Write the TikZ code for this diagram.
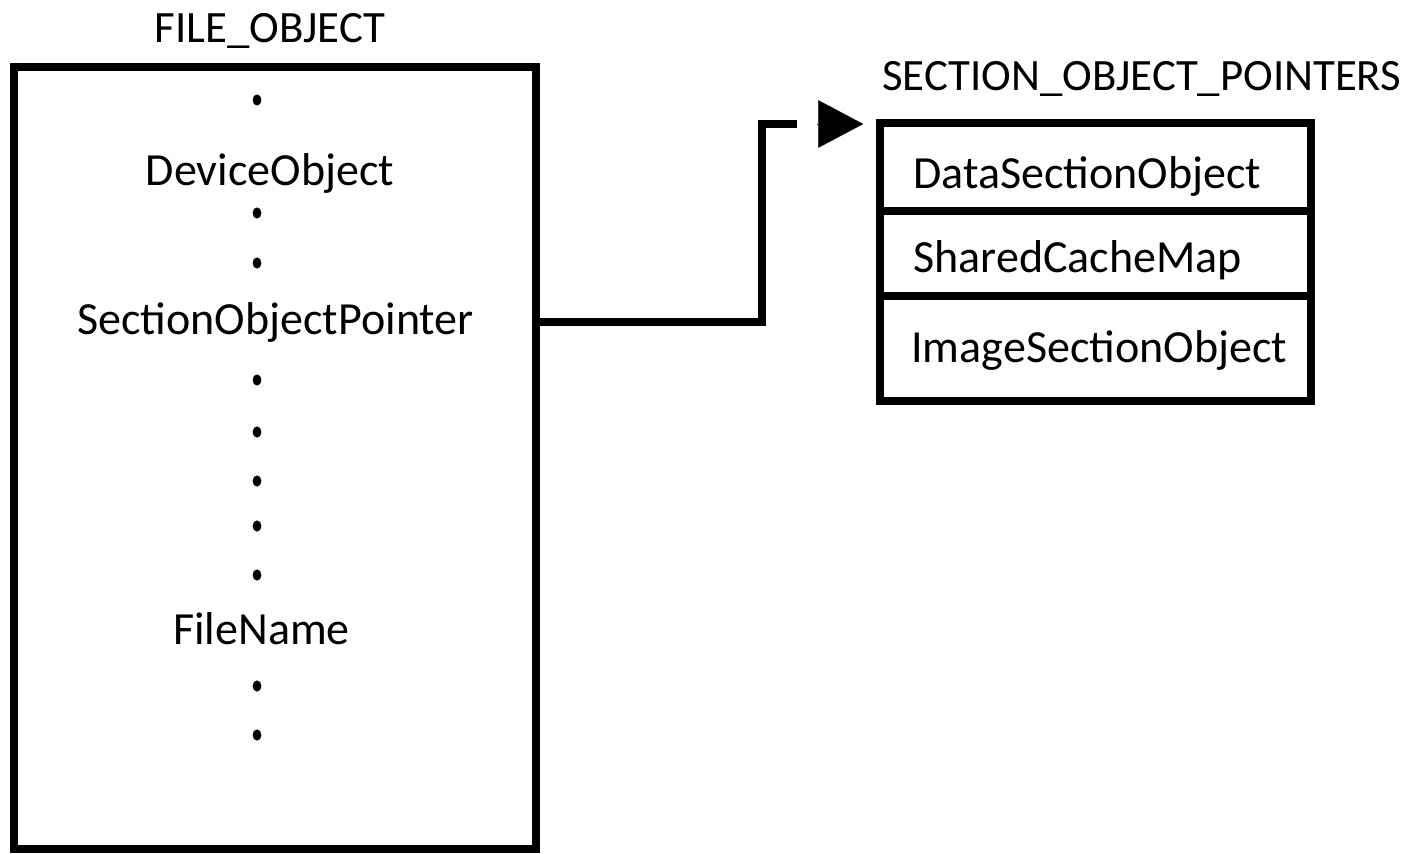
\documentclass[tikz,border=0pt]{standalone}
\usepackage{fontspec}
\setmainfont{Carlito}
\usetikzlibrary{positioning,arrows.meta}

\tikzset{
  structbox/.style={draw, line width=5pt, inner sep=0pt, outer sep=0pt},
  fieldcell/.style={structbox, minimum width=8.62cm},
  fieldname/.style={inner sep=0pt, font=\fontsize{26.2}{30}\selectfont},
  title/.style={inner sep=0pt, font=\fontsize{25.5}{30}\selectfont},
  ptrlink/.style={line width=5pt},
  ptrtip/.style={line width=0.1pt, -{Triangle[length=25.5pt,width=27pt]}}
}

\begin{document}
\begin{tikzpicture}[x=0.02cm, y=-0.02cm]
    \useasboundingbox (0,0) rectangle (1406,853);
    % FILE_OBJECT
    \node[structbox, minimum width=10.44cm, minimum height=15.64cm] (fileobj) at (275,458) {};
    \node[title] (fotitle) at (270,31) {FILE\_OBJECT};
    \node[fieldname] (devobj) at (270,173) {DeviceObject};
    \node[fieldname] (spo) at (275.5,322) {SectionObjectPointer};
    \node[fieldname] (fname) at (261.5,629) {FileName};
    \foreach \y in {100,213,263,380,432,481,526,575,686,735}{
        \fill (257,\y) ellipse [x radius=2.5pt, y radius=3.2pt];}
    % SECTION_OBJECT_POINTERS
    \node[fieldcell, minimum height=1.76cm] (dso) at (1095.5,167) {};
    \node[fieldcell, minimum height=1.7cm, below=0pt of dso] (scm) {};
    \node[fieldcell, minimum height=2.1cm, below=0pt of scm] (iso) {};
    \node[title, anchor=west] (soptitle) at (882,79) {SECTION\_OBJECT\_POINTERS};
    \node[fieldname, anchor=west] (dsotext) at (913,176) {DataSectionObject};
    \node[fieldname, anchor=west] (scmtext) at (913,260.5) {SharedCacheMap};
    \node[fieldname, anchor=west] (isotext) at (911,350.5) {ImageSectionObject};
    % pointer
    \coordinate (bend) at (762,124);
    \coordinate (ptrend) at (797,124);
    \coordinate (tipbase) at (817,124);
    \draw[ptrlink] (spo.east -| fileobj.east) -| (bend) -- (ptrend);
    \draw[ptrtip, shorten >=9.6pt] (tipbase) -- (tipbase -| dso.west);
\end{tikzpicture}
\end{document}
